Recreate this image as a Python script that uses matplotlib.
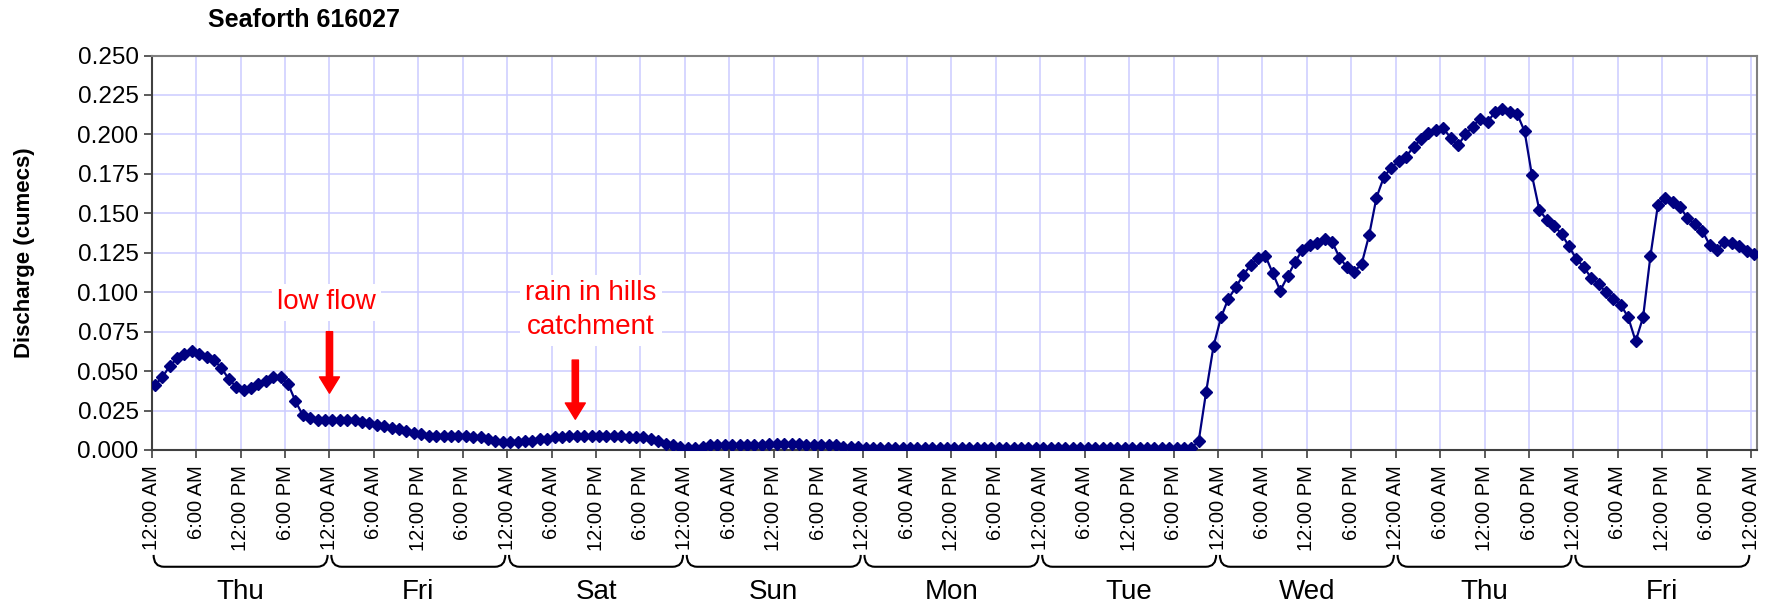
import numpy as np
import matplotlib
matplotlib.use('Agg')
import matplotlib.pyplot as plt
from matplotlib.path import Path
from matplotlib.patches import PathPatch
import matplotlib.transforms as mtransforms

plt.rcParams['font.family'] = ['Liberation Sans', 'DejaVu Sans']

# hourly discharge readings (cumecs), one list per day
thu1 = [0.041, 0.046, 0.053, 0.058, 0.061, 0.063, 0.061, 0.059, 0.057, 0.052,
        0.045, 0.040, 0.038, 0.039, 0.042, 0.044, 0.046, 0.046, 0.042, 0.031,
        0.022, 0.020, 0.019, 0.019]
fri1 = [0.019, 0.019, 0.019, 0.019, 0.018, 0.017, 0.016, 0.015, 0.014, 0.013,
        0.012, 0.011, 0.010, 0.009, 0.009, 0.009, 0.009, 0.009, 0.009, 0.008,
        0.008, 0.007, 0.006, 0.005]
sat = [0.005, 0.005, 0.006, 0.006, 0.007, 0.007, 0.008, 0.008, 0.009, 0.009,
       0.009, 0.009, 0.009, 0.009, 0.009, 0.009, 0.008, 0.008, 0.008, 0.007,
       0.006, 0.004, 0.003, 0.002]
sun = [0.001, 0.001, 0.002, 0.003, 0.003, 0.003, 0.003, 0.003, 0.003, 0.003,
       0.003, 0.004, 0.004, 0.004, 0.004, 0.004, 0.003, 0.003, 0.003, 0.003,
       0.003, 0.002, 0.002, 0.002]
mon = [0.001, 0.001, 0.001, 0.001, 0.001, 0.001, 0.001, 0.001, 0.001, 0.001,
       0.001, 0.001, 0.001, 0.001, 0.001, 0.001, 0.001, 0.001, 0.001, 0.001,
       0.001, 0.001, 0.001, 0.001]
tue = [0.001, 0.001, 0.001, 0.001, 0.001, 0.001, 0.001, 0.001, 0.001, 0.001,
       0.001, 0.001, 0.001, 0.001, 0.001, 0.001, 0.001, 0.001, 0.001, 0.001,
       0.001, 0.006, 0.037, 0.066]
wed = [0.084, 0.096, 0.103, 0.111, 0.117, 0.122, 0.123, 0.112, 0.101, 0.110,
       0.119, 0.127, 0.130, 0.131, 0.134, 0.132, 0.122, 0.116, 0.113, 0.118,
       0.136, 0.160, 0.173, 0.179]
thu2 = [0.183, 0.186, 0.192, 0.197, 0.201, 0.203, 0.204, 0.198, 0.193, 0.200,
        0.205, 0.210, 0.208, 0.214, 0.216, 0.214, 0.213, 0.202, 0.174, 0.152,
        0.146, 0.142, 0.137, 0.129]
fri2 = [0.121, 0.116, 0.109, 0.105, 0.100, 0.096, 0.092, 0.084, 0.069, 0.084,
        0.123, 0.155, 0.160, 0.157, 0.154, 0.147, 0.143, 0.139, 0.130, 0.127,
        0.132, 0.131, 0.129, 0.126, 0.124]

day_names = ['Thu', 'Fri', 'Sat', 'Sun', 'Mon', 'Tue', 'Wed', 'Thu', 'Fri']
time_labels = ['12:00 AM', '6:00 AM', '12:00 PM', '6:00 PM']
first_reading_h = 0.4   # readings taken shortly after the hour

discharge = np.array(thu1 + fri1 + sat + sun + mon + tue + wed + thu2 + fri2)
hours = np.arange(len(discharge)) + first_reading_h
n_days = len(day_names)

fig = plt.figure(figsize=(17.75, 6.05), dpi=100)
ax = fig.add_axes([0.0855, 0.2562, 0.9044, 0.652])

ax.plot(hours, discharge, color='#000080', lw=1.6, marker='D', ms=6.5,
        mec='#000080', mfc='#000080', zorder=3)

ax.set_xlim(0, n_days * 24 + 0.8)
ax.set_ylim(0, 0.25)
yt = np.arange(0, 0.2501, 0.025)
ax.set_yticks(yt)
ax.set_yticklabels(['%.3f' % v for v in yt], fontsize=17.5)
xt = np.arange(0, n_days * 24 + 1, 6)
ax.set_xticks(xt)
ax.set_xticklabels([time_labels[i % 4] for i in range(len(xt))], rotation=90,
                   fontsize=14.5)
ax.tick_params(axis='both', direction='out', length=6, width=1.2, color='#404040')
ax.tick_params(axis='x', pad=5)
ax.grid(True, color='#ccccff', lw=1.1, zorder=0)
ax.set_axisbelow(True)

for side in ['top', 'right']:
    ax.spines[side].set_color('#808080')
    ax.spines[side].set_linewidth(1.5)
for side in ['left', 'bottom']:
    ax.spines[side].set_color('#404040')
    ax.spines[side].set_linewidth(1.5)

ax.set_ylabel('Discharge (cumecs)', fontsize=16, fontweight='bold')
ax.yaxis.set_label_coords(-0.073, 0.5)

fig.text(0.171, 0.967, 'Seaforth 616027', ha='center', va='center',
         fontsize=18, fontweight='bold')

# day braces and names under the time labels
blend = mtransforms.blended_transform_factory(ax.transData, ax.transAxes)
y_top, y_bot = -0.266, -0.296
for d, name in enumerate(day_names):
    x0 = d * 24 + 0.25
    x1 = (d + 1) * 24 - 0.25
    r = 1.4
    verts = [(x0, y_top), (x0, y_bot), (x0 + r, y_bot),
             (x1 - r, y_bot), (x1, y_bot), (x1, y_top)]
    codes = [Path.MOVETO, Path.CURVE3, Path.CURVE3,
             Path.LINETO, Path.CURVE3, Path.CURVE3]
    ax.add_patch(PathPatch(Path(verts, codes), transform=blend, fill=False,
                           lw=1.5, color='black', clip_on=False))
    ax.text(d * 24 + 12, -0.327, name, transform=blend, ha='center', va='top',
            fontsize=20, clip_on=False)

# annotations
arrow_kw = dict(arrowstyle='simple,head_width=0.8,head_length=0.65,tail_width=0.25',
                color='#ff0000', mutation_scale=18, shrinkA=0, shrinkB=0)
ax.text(23.6, 0.0935, 'low flow', color='#ff0000', fontsize=20, ha='center',
        va='center', bbox=dict(facecolor='white', edgecolor='none', pad=4), zorder=4)
ax.annotate('', xy=(24, 0.036), xytext=(24, 0.075), arrowprops=arrow_kw, zorder=4)
ax.text(59.3, 0.0885, 'rain in hills\ncatchment', color='#ff0000', fontsize=20,
        ha='center', va='center', linespacing=1.4,
        bbox=dict(facecolor='white', edgecolor='none', pad=4), zorder=4)
ax.annotate('', xy=(57.2, 0.0195), xytext=(57.2, 0.057), arrowprops=arrow_kw, zorder=4)

fig.savefig('out.png', dpi=100)
